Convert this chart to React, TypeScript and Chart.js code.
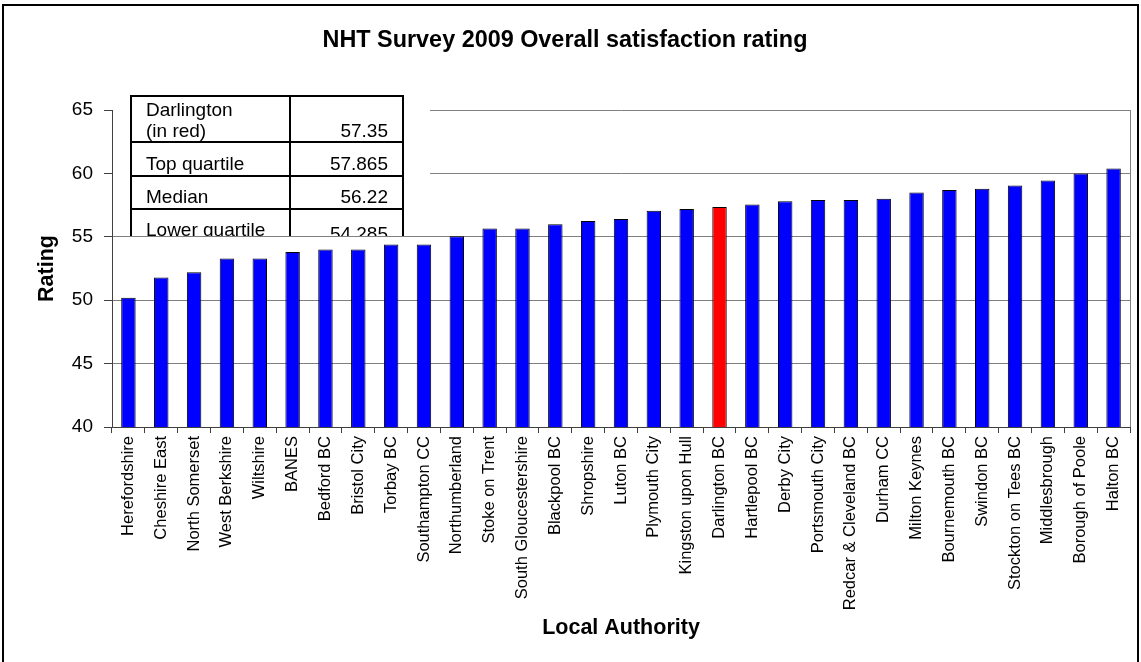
import React, { useEffect, useRef } from "react";
import { Chart, registerables } from "chart.js";

Chart.register(...registerables);

const categories = [
  "Herefordshire", "Cheshire East", "North Somerset", "West Berkshire", "Wiltshire",
  "BANES", "Bedford BC", "Bristol City", "Torbay BC", "Southampton CC",
  "Northumberland", "Stoke on Trent", "South Gloucestershire", "Blackpool BC", "Shropshire",
  "Luton BC", "Plymouth City", "Kingston upon Hull", "Darlington BC", "Hartlepool BC",
  "Derby City", "Portsmouth City", "Redcar & Cleveland BC", "Durham CC", "Milton Keynes",
  "Bournemouth BC", "Swindon BC", "Stockton on Tees BC", "Middlesbrough", "Borough of Poole",
  "Halton BC",
];

const ratings = [
  50.2, 51.8, 52.2, 53.3, 53.3,
  53.8, 54.0, 54.0, 54.4, 54.4,
  55.05, 55.65, 55.65, 56.0, 56.25,
  56.4, 57.05, 57.2, 57.35, 57.55,
  57.8, 57.9, 57.9, 58.0, 58.5,
  58.7, 58.8, 59.05, 59.45, 60.0,
  60.4,
];

const highlighted = "Darlington BC";

const tableLabels = [["Darlington", "(in red)"], ["Top quartile"], ["Median"], ["Lower quartile"]];
const tableValues = ["57.35", "57.865", "56.22", "54.285"];

const yMin = 40;
const yMax = 65;
const yStep = 5;

const titleText = "NHT Survey 2009 Overall satisfaction rating";
const xTitle = "Local Authority";
const yTitle = "Rating";

const FONT = "'Liberation Sans', Arial, Helvetica, sans-serif";

const decorPlugin = {
  id: "decor",
  beforeDraw(chart: any) {
    const { ctx, width, height } = chart;
    ctx.save();
    ctx.fillStyle = "#ffffff";
    ctx.fillRect(0, 0, width, height);
    ctx.strokeStyle = "#000000";
    ctx.lineWidth = 2;
    ctx.strokeRect(3, 5, width - 6, height + 20);
    ctx.restore();
  },
  afterDraw(chart: any) {
    const { ctx, chartArea } = chart;
    const yScale = chart.scales.y;
    ctx.save();
    // right edge of plot area
    ctx.strokeStyle = "#808080";
    ctx.lineWidth = 1;
    ctx.beginPath();
    ctx.moveTo(Math.round(chartArea.right) + 0.5, chartArea.top);
    ctx.lineTo(Math.round(chartArea.right) + 0.5, chartArea.bottom);
    ctx.stroke();

    // white box holding the table
    const L = chartArea.left;
    const T = chartArea.top;
    const boxL = L + 1;
    const boxR = L + 318;
    const boxT = T - 15;
    const boxB = Math.round(yScale.getPixelForValue(55)) - 1;
    ctx.fillStyle = "#ffffff";
    ctx.fillRect(boxL, boxT, boxR - boxL, boxB - boxT);
    ctx.beginPath();
    ctx.rect(boxL, boxT - 1, boxR - boxL, boxB - boxT + 1);
    ctx.clip();

    const tL = L + 19;
    const tM = L + 178;
    const tR = L + 291;
    const rowLines = [T - 14, T + 32, T + 66, T + 99];
    ctx.strokeStyle = "#000000";
    ctx.lineWidth = 2;
    ctx.beginPath();
    for (const ry of rowLines) {
      ctx.moveTo(tL, ry);
      ctx.lineTo(tR, ry);
    }
    for (const cx of [tL, tM, tR]) {
      ctx.moveTo(cx, T - 15);
      ctx.lineTo(cx, boxB + 40);
    }
    ctx.stroke();

    ctx.fillStyle = "#000000";
    ctx.font = `19px ${FONT}`;
    ctx.textBaseline = "alphabetic";
    const labelBase = [[T + 6, T + 27], [T + 60], [T + 93], [T + 126]];
    const valueBase = [T + 27, T + 60, T + 93, T + 130];
    tableLabels.forEach((lines, i) => {
      ctx.textAlign = "left";
      lines.forEach((ln, j) => ctx.fillText(ln, L + 34, labelBase[i][j]));
      ctx.textAlign = "right";
      ctx.fillText(tableValues[i], L + 276, valueBase[i]);
    });
    ctx.restore();
  },
};

export default function App() {
  const canvasRef = useRef<HTMLCanvasElement | null>(null);

  useEffect(() => {
    const canvas = canvasRef.current;
    if (!canvas) return;
    const chart = new Chart(canvas, {
      type: "bar",
      data: {
        labels: categories,
        datasets: [
          {
            data: ratings,
            backgroundColor: categories.map((c) => (c === highlighted ? "#ff0000" : "#0000ff")),
            borderColor: "#000000",
            borderWidth: 1,
            barPercentage: 0.44,
            categoryPercentage: 1,
          },
        ],
      },
      options: {
        responsive: false,
        animation: false,
        layout: { padding: { top: 0, left: 0, right: 11, bottom: 0 } },
        plugins: {
          legend: { display: false },
          tooltip: { enabled: false },
          title: {
            display: true,
            text: titleText,
            color: "#000000",
            font: { family: FONT, size: 23.4, weight: "bold" },
            padding: { top: 27, bottom: 55 },
          },
        },
        scales: {
          x: {
            grid: {
              display: true,
              drawOnChartArea: false,
              drawTicks: true,
              tickLength: 6,
              tickColor: "#404040",
              offset: true,
            },
            border: { display: true, color: "#404040", width: 1 },
            ticks: {
              autoSkip: false,
              maxRotation: 90,
              minRotation: 90,
              padding: 3,
              color: "#000000",
              font: { family: FONT, size: 16.5 },
            },
            title: {
              display: true,
              text: xTitle,
              color: "#000000",
              font: { family: FONT, size: 21.5, weight: "bold" },
              padding: { top: 0, bottom: 21 },
            },
            afterFit: (s: any) => {
              s.height = 235;
            },
          },
          y: {
            min: yMin,
            max: yMax,
            ticks: {
              stepSize: yStep,
              padding: 11,
              color: "#000000",
              font: { family: FONT, size: 19 },
            },
            grid: {
              color: "#808080",
              tickColor: "#404040",
              tickLength: 8,
              drawTicks: true,
            },
            border: { display: true, color: "#404040", width: 1 },
            title: {
              display: true,
              text: yTitle,
              color: "#000000",
              font: { family: FONT, size: 21.5, weight: "bold" },
              padding: { top: 34, bottom: 0 },
            },
            afterFit: (s: any) => {
              s.width = 112;
            },
          },
        },
      },
      plugins: [decorPlugin],
    });
    return () => chart.destroy();
  }, []);

  return (
    <div style={{ position: "fixed", left: 0, top: 0, width: 1141, height: 662, background: "#fff" }}>
      <canvas ref={canvasRef} width={1141} height={662} style={{ display: "block", width: 1141, height: 662 }} />
    </div>
  );
}
